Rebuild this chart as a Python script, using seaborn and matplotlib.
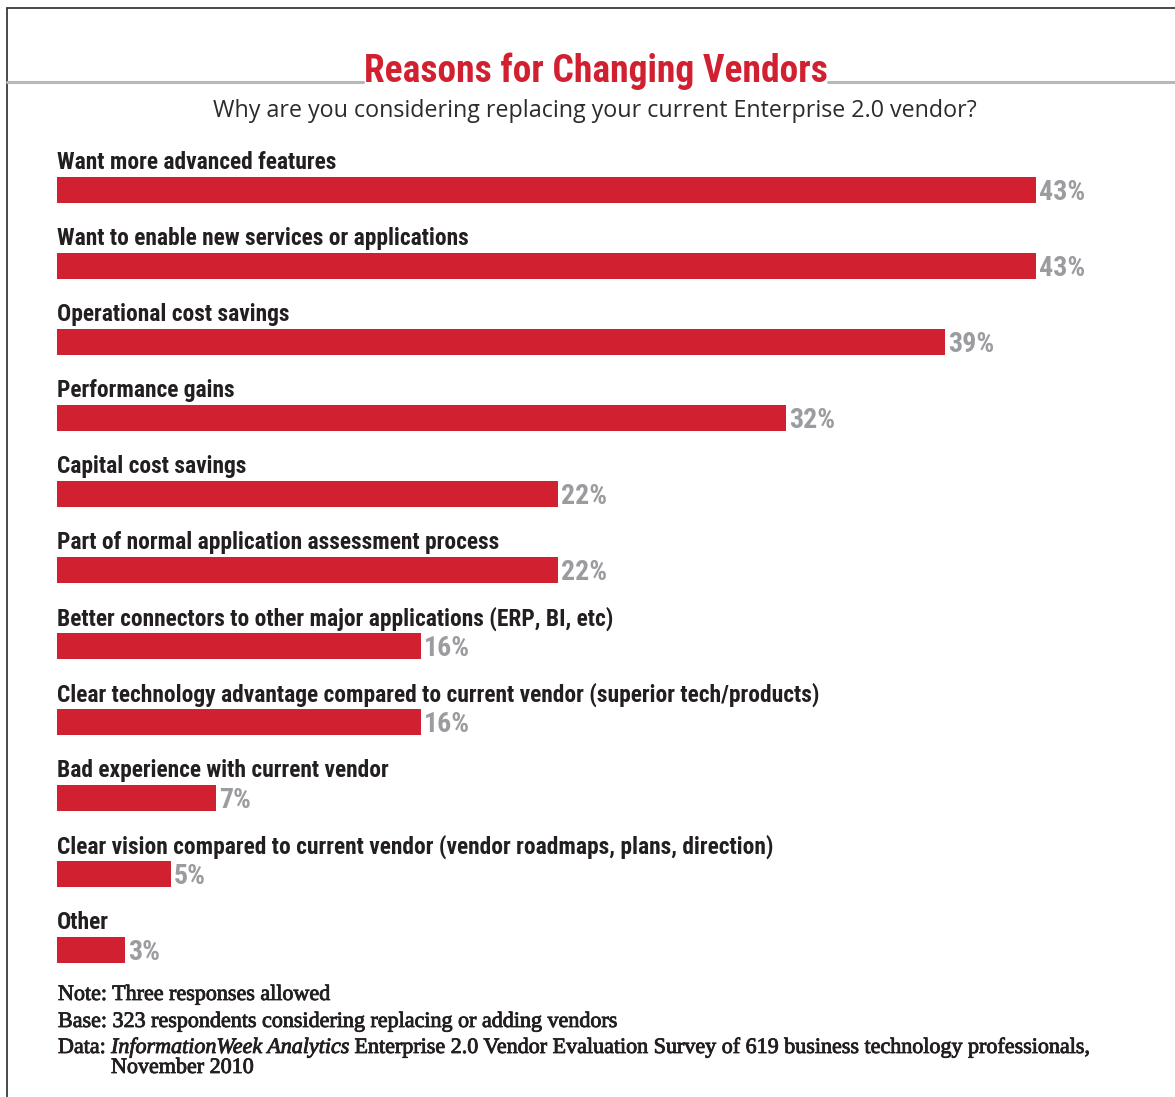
import matplotlib
matplotlib.use("Agg")
import matplotlib.pyplot as plt
from matplotlib import font_manager
from matplotlib import patheffects
from matplotlib.lines import Line2D
import seaborn as sns
import pandas as pd

# ---- data -------------------------------------------------------------
reasons = [
    "Want more advanced features",
    "Want to enable new services or applications",
    "Operational cost savings",
    "Performance gains",
    "Capital cost savings",
    "Part of normal application assessment process",
    "Better connectors to other major applications (ERP, BI, etc)",
    "Clear technology advantage compared to current vendor (superior tech/products)",
    "Bad experience with current vendor",
    "Clear vision compared to current vendor (vendor roadmaps, plans, direction)",
    "Other",
]
percent = [43, 43, 39, 32, 22, 22, 16, 16, 7, 5, 3]
value_labels = [f"{v}%" for v in percent]

title = "Reasons for Changing Vendors"
subtitle = "Why are you considering replacing your current Enterprise 2.0 vendor?"
note_text = "Note: Three responses allowed"
base_text = "Base: 323 respondents considering replacing or adding vendors"
data_prefix = "Data: "
data_source = "InformationWeek Analytics"
data_rest = " Enterprise 2.0 Vendor Evaluation Survey of 619 business technology professionals,"
data_date = "November 2010"

# ---- styling ----------------------------------------------------------
RED = "#d12131"
GREY_VAL = "#9b9ca0"
INK = "#231f20"
RULE = "#b8b8bc"
W, H = 1175, 1097
PX_PER_PCT = 22.77
ROW_PX = 76
BAR_PX = 26

sns.set_theme(style="white")
plt.rcParams["font.family"] = ["DejaVu Sans"]

entries = font_manager.fontManager.ttflist
installed = {f.name for f in entries}


def pick(cands, default="DejaVu Sans"):
    for c in cands:
        if c in installed:
            return c
    return default


COND = pick(["Liberation Sans Narrow", "Roboto Condensed", "Open Sans Condensed"], None)
COND_STRETCH = "normal"
if COND is None:
    if any(f.name == "DejaVu Sans" and f.stretch == "condensed" for f in entries):
        COND, COND_STRETCH = "DejaVu Sans", "condensed"
    else:
        COND = pick(["Roboto", "Lato", "DejaVu Sans"])
SANS = pick(["Open Sans", "Lato", "Noto Sans", "DejaVu Sans"])
SERIF = pick(["Liberation Serif", "DejaVu Serif"])

df = pd.DataFrame({"reason": reasons, "pct": percent})

fig = plt.figure(figsize=(W / 100, H / 100), dpi=100)
fig.patch.set_facecolor("white")


def fx(px):
    return px / W


def fy(py):
    return 1 - py / H


# frame
fig.add_artist(Line2D([fx(7), 1], [fy(8), fy(8)], color="#3a3a3a", lw=1.3))
fig.add_artist(Line2D([fx(7), fx(7)], [fy(8), 0], color="#3a3a3a", lw=1.3))

# bar area
ax_left, ax_right, ax_top, ax_bottom = 57, 1150, 140, 990
ax = fig.add_axes([fx(ax_left), fy(ax_bottom), (ax_right - ax_left) / W,
                   (ax_bottom - ax_top) / H])
sns.barplot(data=df, x="pct", y="reason", orient="h", color=RED,
            saturation=1, width=BAR_PX / ROW_PX, linewidth=0,
            edgecolor="none", ax=ax)
first_center = 190
last_center = first_center + ROW_PX * (len(reasons) - 1)
ax.set_xlim(0, (ax_right - ax_left) / PX_PER_PCT)
ax.set_ylim(len(reasons) - 1 + (ax_bottom - last_center) / ROW_PX,
            -(first_center - ax_top) / ROW_PX)
ax.set_axis_off()

label_texts = []
value_texts = []
for i, (name, v, lab) in enumerate(zip(reasons, percent, value_labels)):
    t = ax.text(0, i - 20.7 / ROW_PX, name, ha="left", va="baseline",
                fontsize=18, fontweight="bold", family=COND,
                fontstretch=COND_STRETCH, color=INK)
    label_texts.append(t)
    vt = ax.text(v + 3 / PX_PER_PCT, i + 10 / ROW_PX, lab, ha="left",
                 va="baseline", fontsize=18, fontweight="bold", family=COND,
                 fontstretch=COND_STRETCH, color=GREY_VAL)
    value_texts.append(vt)

t_title = fig.text(fx(595.5), fy(82), title, ha="center", va="baseline",
                   fontsize=30, fontweight="bold", family=COND,
                   fontstretch=COND_STRETCH, color=RED, zorder=3)
t_sub = fig.text(fx(595), fy(117), subtitle, ha="center", va="baseline",
                 fontsize=17, family=SANS, color="#2b2b2b")

semibold = [patheffects.withStroke(linewidth=0.6, foreground=INK)]
foot_kw = dict(ha="left", va="baseline", fontsize=13, family=SERIF, color=INK,
               path_effects=semibold)
t_note = fig.text(fx(58), fy(1000), note_text, **foot_kw)
t_base = fig.text(fx(58), fy(1027), base_text, **foot_kw)
t_dp = fig.text(fx(58), fy(1053), data_prefix, **foot_kw)
t_ds = fig.text(fx(111), fy(1053), data_source, style="italic", **foot_kw)
t_dr = fig.text(fx(111), fy(1053), data_rest, **foot_kw)
t_dd = fig.text(fx(111), fy(1073), data_date, **foot_kw)

renderer = fig.canvas.get_renderer()


def width(t):
    return t.get_window_extent(renderer).width


def fit(ref, group, target):
    for _ in range(2):
        s = target / width(ref)
        for t in group:
            t.set_fontsize(t.get_fontsize() * s)


fit(label_texts[7], label_texts, 763)
fit(value_texts[0], value_texts, 46)
fit(t_title, [t_title], 463)
fit(t_sub, [t_sub], 762)
foot = [t_note, t_base, t_dp, t_ds, t_dr, t_dd]
for _ in range(2):
    t_dr.set_x(t_ds.get_window_extent(renderer).x1 / W)
    total = t_dr.get_window_extent(renderer).x1 - 58
    s = 1033 / total
    for t in foot:
        t.set_fontsize(t.get_fontsize() * s)
# chain the pieces of the source line
t_dr.set_x(t_ds.get_window_extent(renderer).x1 / W)

# header rule, broken around the title
tb = t_title.get_window_extent(renderer)
rule_y = fy(81.5)
fig.add_artist(Line2D([fx(7), (tb.x0 - 1) / W], [rule_y, rule_y], color=RULE, lw=2.2))
fig.add_artist(Line2D([(tb.x1 + 1) / W, 1], [rule_y, rule_y], color=RULE, lw=2.2))

fig.savefig("out.png", dpi=100, facecolor="white")
